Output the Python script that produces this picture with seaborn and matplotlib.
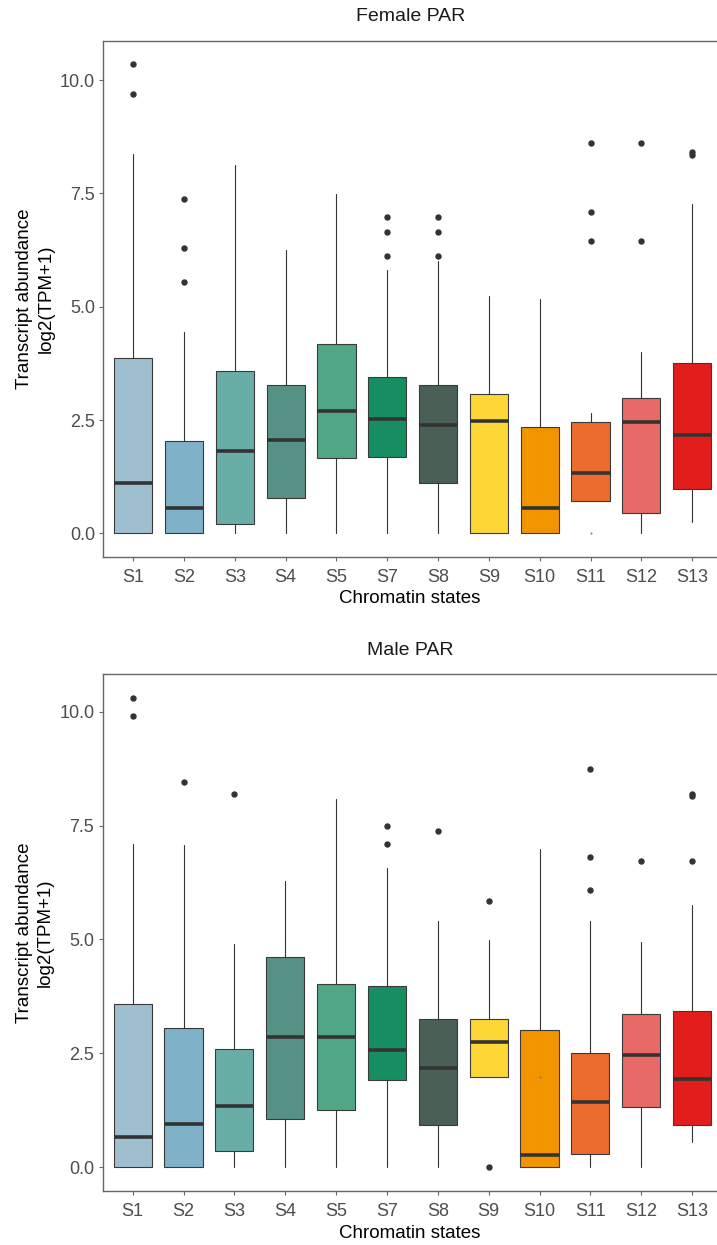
import matplotlib
matplotlib.use("Agg")
import matplotlib.pyplot as plt
import seaborn as sns

sns.set_style("ticks")
plt.rcParams['font.family'] = ['Liberation Sans', 'DejaVu Sans']

states = ['S1', 'S2', 'S3', 'S4', 'S5', 'S7', 'S8', 'S9', 'S10', 'S11', 'S12', 'S13']
palette = ['#9fbfcf', '#7fb1c8', '#68aea6', '#569185', '#50a785', '#178d62',
           '#4a5f55', '#fdd735', '#f29400', '#eb6c2d', '#e76a66', '#e21d1b']

# Female PAR box statistics
f_whislo = [0, 0, 0, 0, 0, 0, 0, 0, 0, 0.71, 0, 0.24]
f_q1 = [0, 0, 0.21, 0.78, 1.66, 1.68, 1.12, 0, 0, 0.71, 0.45, 0.98]
f_med = [1.11, 0.57, 1.81, 2.07, 2.69, 2.53, 2.40, 2.47, 0.57, 1.33, 2.45, 2.16]
f_q3 = [3.87, 2.03, 3.59, 3.27, 4.18, 3.45, 3.28, 3.07, 2.35, 2.46, 2.99, 3.76]
f_whishi = [8.37, 4.45, 8.12, 6.25, 7.49, 5.81, 6.00, 5.24, 5.17, 2.65, 4.01, 7.26]
f_fliers = [[10.35, 9.70], [7.38, 6.29, 5.54], [], [], [],
            [6.98, 6.65, 6.12], [6.98, 6.65, 6.12], [], [],
            [8.62, 7.08, 6.45], [8.62, 6.45], [8.42, 8.35]]
# nearly invisible outliers (state index, value)
f_faint = [(9, 0.0)]

# Male PAR box statistics
m_whislo = [0, 0, 0, 0, 0, 0, 0, 1.98, 0, 0, 0, 0.55]
m_q1 = [0, 0, 0.35, 1.07, 1.26, 1.91, 0.92, 1.98, 0, 0.30, 1.33, 0.92]
m_med = [0.67, 0.95, 1.35, 2.86, 2.86, 2.57, 2.18, 2.74, 0.26, 1.43, 2.46, 1.94]
m_q3 = [3.59, 3.05, 2.60, 4.62, 4.03, 3.97, 3.26, 3.26, 3.01, 2.50, 3.37, 3.43]
m_whishi = [7.09, 7.07, 4.90, 6.29, 8.09, 6.56, 5.41, 4.99, 6.99, 5.41, 4.94, 5.76]
m_fliers = [[10.30, 9.91], [8.45], [8.19], [], [], [7.49, 7.10], [7.39],
            [5.85, 0.0], [], [8.74, 6.80, 6.09], [6.72], [8.20, 8.15, 6.72]]
m_faint = [(8, 1.98)]

panels = [
    ('Female PAR', f_whislo, f_q1, f_med, f_q3, f_whishi, f_fliers, f_faint,
     [0.1441, 0.5528, 0.8559, 0.4145], (-0.516, 10.87)),
    ('Male PAR', m_whislo, m_q1, m_med, m_q3, m_whishi, m_fliers, m_faint,
     [0.1432, 0.0434, 0.8568, 0.4150], (-0.52, 10.82)),
]

fig = plt.figure(figsize=(7.17, 12.45), dpi=100)

for title, wlo, q1, med, q3, whi, fl, faint, rect, ylim in panels:
    ax = fig.add_axes(rect)
    stats = []
    for i in range(len(states)):
        stats.append({'whislo': wlo[i], 'q1': q1[i], 'med': med[i],
                      'q3': q3[i], 'whishi': whi[i], 'fliers': fl[i]})
    bp = ax.bxp(stats, positions=range(len(states)), widths=0.75,
                patch_artist=True, showcaps=False,
                boxprops=dict(edgecolor='#3a3a3a', linewidth=0.8),
                medianprops=dict(color='#333333', linewidth=2.6, solid_capstyle='butt'),
                whiskerprops=dict(color='#333333', linewidth=0.8),
                flierprops=dict(marker='o', markersize=3.6, markerfacecolor='#333333',
                                markeredgecolor='#333333', linestyle='none'))
    for patch, c in zip(bp['boxes'], palette):
        patch.set_facecolor(c)
    ax.scatter([p[0] for p in faint], [p[1] for p in faint], s=2,
               color='#777777', zorder=4, linewidths=0)

    ax.set_xlim(-0.59, 11.49)
    ax.set_ylim(*ylim)
    ax.set_xticks(range(len(states)))
    ax.set_xticklabels(states)
    ax.set_yticks([0, 2.5, 5.0, 7.5, 10.0])
    ax.set_yticklabels(['0.0', '2.5', '5.0', '7.5', '10.0'])
    ax.tick_params(axis='both', labelsize=13, labelcolor='#4d4d4d', color='#666666',
                   length=3, width=0.8)
    ax.tick_params(axis='x', pad=6)
    ax.tick_params(axis='y', pad=3)
    for side in ['left', 'bottom', 'top']:
        ax.spines[side].set_color('#666666')
        ax.spines[side].set_linewidth(1.0)
    ax.spines['right'].set_visible(False)

    ax.set_title(title, fontsize=14, color='#1a1a1a', pad=14, x=0.5)
    ax.set_xlabel('Chromatin states', fontsize=13.5, color='black', labelpad=3)
    ax.set_ylabel('Transcript abundance\nlog2(TPM+1)', fontsize=13.5, color='black',
                  labelpad=4, linespacing=1.3)

fig.savefig('out.png', dpi=100)
